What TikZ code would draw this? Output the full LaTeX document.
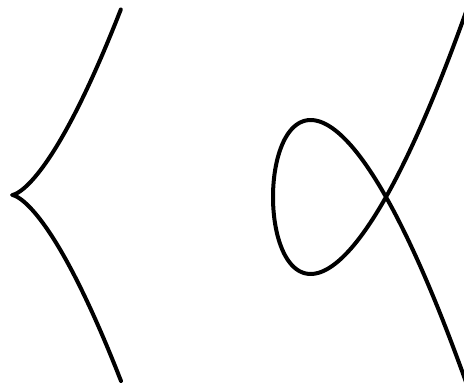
\documentclass[tikz,border=0pt]{standalone}
\usepackage{tikz}

\begin{document}
\begin{tikzpicture}[
  x=1pt, y=-1pt,
  curve/.style={draw, line width=4pt, line cap=round, line join=round, smooth}
]
\useasboundingbox (0,0) rectangle (464,385);
\clip (0,0) rectangle (464,385);
% cusp
\draw[curve] plot[domain=-1:1, samples=120] ({12+109*\x*\x},{195-186*\x*\x*\x});
% node (loop)
\draw[curve] plot[domain=-1.31:1.31, samples=160] ({386+113*(\x*\x-1)},{197-200*\x*(\x*\x-1)});
\end{tikzpicture}
\end{document}
